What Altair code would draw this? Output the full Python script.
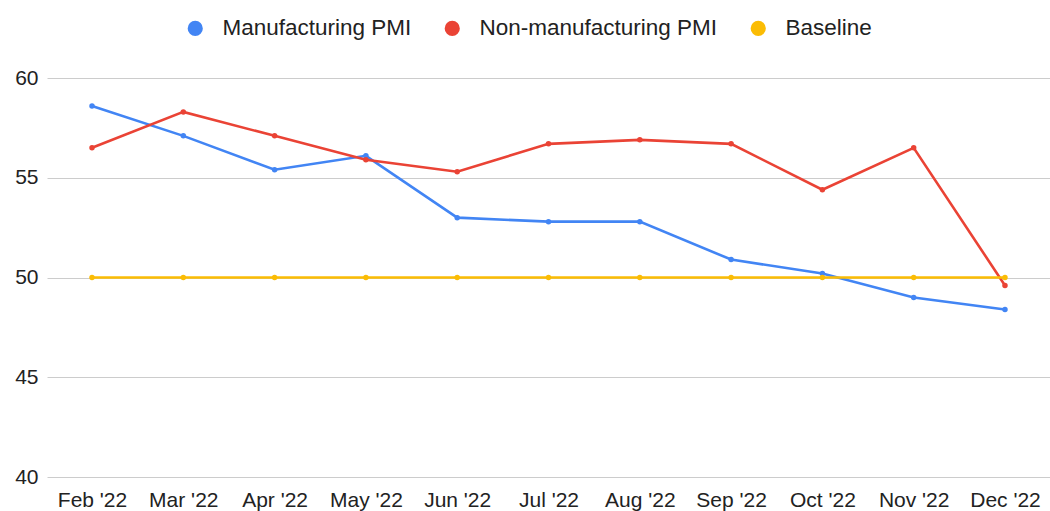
import altair as alt
import pandas as pd

months = ["Feb '22", "Mar '22", "Apr '22", "May '22", "Jun '22", "Jul '22",
          "Aug '22", "Sep '22", "Oct '22", "Nov '22", "Dec '22"]
manufacturing = [58.6, 57.1, 55.4, 56.1, 53.0, 52.8, 52.8, 50.9, 50.2, 49.0, 48.4]
non_manufacturing = [56.5, 58.3, 57.1, 55.9, 55.3, 56.7, 56.9, 56.7, 54.4, 56.5, 49.6]
baseline = [50, 50, 50, 50, 50, 50, 50, 50, 50, 50, 50]

series_names = ["Manufacturing PMI", "Non-manufacturing PMI", "Baseline"]
series_colors = ["#4285F4", "#EA4335", "#FBBC04"]

rows = []
for name, vals in zip(series_names, [manufacturing, non_manufacturing, baseline]):
    for m, v in zip(months, vals):
        rows.append({"month": m, "value": v, "series": name})
df = pd.DataFrame(rows)

FONT = "Liberation Sans"

x = alt.X("month:N", sort=months, title=None,
          scale=alt.Scale(type="point", padding=0.493),
          axis=alt.Axis(labelAngle=0, labelFontSize=21, labelColor="#222222",
                        labelFont=FONT, ticks=False, domain=False, grid=False,
                        labelPadding=12))
y = alt.Y("value:Q", title=None,
          scale=alt.Scale(domain=[40, 60], zero=False, nice=False),
          axis=alt.Axis(values=[40, 45, 50, 55, 60], labelFontSize=21,
                        labelColor="#222222", labelFont=FONT, ticks=False,
                        domain=False, gridColor="#CCCCCC", gridWidth=1,
                        labelPadding=9))
color = alt.Color("series:N", sort=series_names,
                  scale=alt.Scale(domain=series_names, range=series_colors),
                  legend=alt.Legend(title=None, orient="none", direction="horizontal",
                                    legendX=137, legendY=-61,
                                    symbolType="circle", symbolSize=230,
                                    symbolStrokeWidth=0,
                                    labelFontSize=22.5, labelFont=FONT,
                                    labelColor="#222222", labelOffset=16,
                                    labelLimit=0, columnPadding=29))

base = alt.Chart(df)
lines = base.mark_line(strokeWidth=2.6).encode(x=x, y=y, color=color,
                                               detail="series:N")
points = base.mark_circle(size=30, opacity=1).encode(x=x, y=y, color=color)

chart = alt.layer(lines, points).properties(
    width=1003, height=399,
    background="white",
    autosize=alt.AutoSizeParams(type="none"),
    padding={"left": 47, "top": 78, "right": 0, "bottom": 34},
).configure_view(stroke=None)

chart.save("out.html", embed_options={"renderer": "svg", "actions": False})
